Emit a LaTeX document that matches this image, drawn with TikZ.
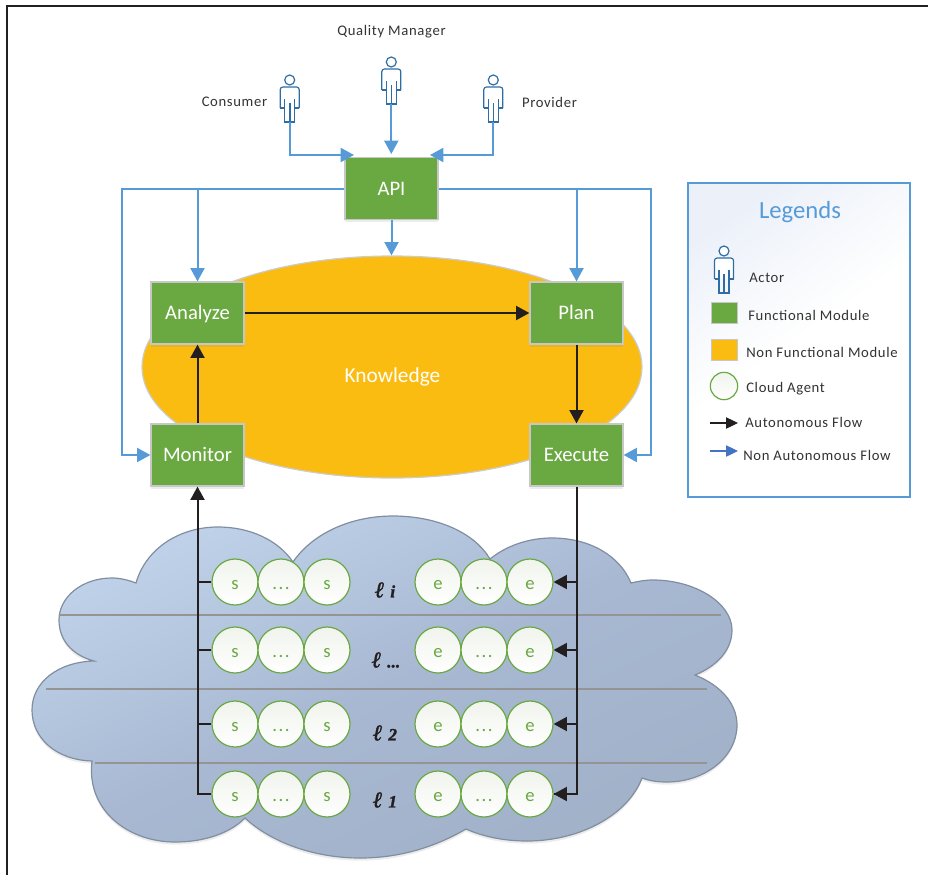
\documentclass[tikz,border=0pt]{standalone}
\usepackage{fontspec}
\setmainfont{Carlito}
\newfontfamily\captionfont[LetterSpace=4.5]{Carlito}
\newfontfamily\layerfont[BoldItalicFeatures={FakeBold=1.5}]{Liberation Serif}
\usetikzlibrary{arrows.meta,shapes.geometric,shadows}
\definecolor{modulegreen}{RGB}{106,168,66}
\definecolor{knowledgeorange}{RGB}{251,188,18}
\definecolor{flowblue}{RGB}{86,155,215}
\definecolor{legendblue}{RGB}{68,114,196}
\definecolor{actorblue}{RGB}{46,110,165}
\definecolor{flowblack}{RGB}{35,31,32}
\definecolor{cloudtop}{RGB}{192,210,234}
\definecolor{cloudmid}{RGB}{168,184,210}
\definecolor{cloudbot}{RGB}{160,177,200}
\definecolor{agenttop}{RGB}{240,244,236}
\newcommand{\layerlabel}[1]{{\fontsize{17}{17}\selectfont ℓ}\,\,#1}
\newcommand{\agentdots}{.\kern1.2pt.\kern1.2pt.}
\tikzset{
  softshadow/.style={drop shadow={opacity=0.15,shadow xshift=0pt,shadow yshift=-2pt}},
  module/.style={draw=black!22,line width=0.9pt,fill=modulegreen,text=white,minimum width=69.75pt,minimum height=46.5pt,text height=11pt,text depth=1pt,font=\fontsize{15.5}{18}\selectfont,softshadow},
  agent/.style={circle,draw=modulegreen,line width=0.9pt,top color=agenttop,bottom color=white,text=modulegreen,minimum size=34.5pt,inner sep=0pt,text height=11pt,text depth=0pt,font=\fontsize{14}{16}\selectfont},
  swatch/.style={draw=black!22,line width=0.9pt,minimum width=20pt,minimum height=16pt},
  autoflow/.style={draw=flowblack,line width=1.5pt},
  nonflow/.style={draw=flowblue,line width=1.5pt},
  tip/.style={-{Triangle[length=10pt,width=10.5pt]}},
  caption/.style={text=black!80,inner sep=0.75pt,font=\fontsize{11}{13}\captionfont\selectfont},
  layertext/.style={text=flowblack,inner sep=0.75pt,font=\fontsize{13}{16}\layerfont\bfseries\itshape\selectfont},
  layerline/.style={draw=black!42,line width=1pt},
  actor/.pic={
    \draw [actorblue,line width=0.9pt,fill=white,rounded corners=2pt] (-9.5,-21) -- (-9.5,0) -- (9.5,0) -- (9.5,-21) ;
    \draw [actorblue,line width=0.9pt] (-5,-12) -- (-5,-35) -- (5,-35) -- (5,-12) (-9.5,-21) -- (-5,-21) (9.5,-21) -- (5,-21) ;
    \draw [actorblue,line width=1.2pt] (0,-16) -- (0,-35) ;
    \draw [actorblue,line width=0.9pt,fill=white] (0,7) circle [radius=5] ;
    \coordinate (-foot) at (0,-35) ;
  }
}
\begin{document}
\begin{tikzpicture}[x=0.75pt,y=0.75pt,yscale=-1,xscale=1]
\useasboundingbox (0,0) rectangle (928,875);

%Page edge
\draw [flowblack,line width=0.9pt] (928,6) -- (7,6) -- (7,875) ;

%Shape: Cloud
\draw [draw=cloudbot!80!black,line width=0.9pt,top color=cloudtop,bottom color=cloudbot,middle color=cloudmid,shading angle=25,softshadow]
  (136,583) .. controls (146,548) and (180,527) .. (218,527) .. controls (250,527) and (278,540) .. (293,562)
  .. controls (312,534) and (350,516) .. (393,516) .. controls (436,516) and (474,532) .. (490,559)
  .. controls (506,546) and (528,538) .. (552,538) .. controls (590,538) and (620,556) .. (631,583)
  .. controls (640,581) and (645,580) .. (653,580) .. controls (695,580) and (732,603) .. (732,630) .. controls (732,650) and (717,666) .. (695,675)
  .. controls (720,685) and (737,703) .. (737,725) .. controls (737,757) and (705,782) .. (667,782) .. controls (658,782) and (650,781) .. (642,778)
  .. controls (628,815) and (580,841) .. (527,841) .. controls (505,841) and (484,837) .. (466,829)
  .. controls (435,847) and (400,858) .. (360,858) .. controls (315,858) and (272,843) .. (245,818)
  .. controls (230,833) and (205,842) .. (175,842) .. controls (128,842) and (86,810) .. (92,761)
  .. controls (56,760) and (32,738) .. (32,710) .. controls (32,682) and (58,662) .. (94,661)
  .. controls (72,655) and (59,640) .. (59,620) .. controls (59,597) and (82,578) .. (112,578) .. controls (120,578) and (128,580) .. (136,583) -- cycle ;
\draw [layerline] (59,615) -- (721,615) (46,689) -- (707,689) (95,763) -- (707,763) ;

%Shape: Knowledge ellipse
\node (knowledge) at (392,367) [ellipse,draw=black!20,line width=0.9pt,fill=knowledgeorange,minimum width=375pt,minimum height=166.5pt] {};
\node (knowledgetext) at (392.5,377) [text=white,font=\fontsize{16}{19}\selectfont] {Knowledge};

%Modules
\node (api) at (391.5,188.5) [module] {API};
\node (analyze) at (197.5,313) [module] {Analyze};
\node (plan) at (576.5,313) [module] {Plan};
\node (monitor) at (197.5,455) [module] {Monitor};
\node (execute) at (576.5,455) [module] {Execute};

%Actors
\pic (consumer) at (289.7,87) {actor};
\pic (manager) at (391.3,69) {actor};
\pic (provider) at (493.3,87) {actor};
\node (consumertext) at (234.5,102) [caption] {Consumer};
\node (managertext) at (391.5,32) [caption] {Quality Manager};
\node (providertext) at (549.5,102) [caption] {Provider};

%Non autonomous flows
\coordinate (apileft) at (354,155);
\coordinate (apitop) at (391.3,154);
\coordinate (apiright) at (430,155);
\coordinate (leftbus) at (122,188.5);
\coordinate (rightbus) at (651,188.5);
\draw [nonflow,tip] (consumer-foot) |- (apileft);
\draw [nonflow,tip] (manager-foot) -- (apitop);
\draw [nonflow,tip] (provider-foot) |- (apiright);
\draw [nonflow,tip] (api.south) -- (api.south |- knowledge.north);
\draw [nonflow,tip] (api.west) -| (analyze.north);
\draw [nonflow,tip] (api.east) -| (plan.north);
\draw [nonflow,tip] (api.west) -- (leftbus) |- (monitor.west);
\draw [nonflow,tip] (api.east) -- (rightbus) |- (execute.east);

%Autonomous flows
\draw [autoflow,tip] (analyze.east) -- (plan.west);
\draw [autoflow,tip] (plan.south) -- (execute.north);
\draw [autoflow,tip] (monitor.north) -- (analyze.south);

%Cloud agents
\foreach \rowname/\rowy in {a/582,b/650,c/724,d/794} {
  \node (s\rowname1) at (235,\rowy) [agent] {s};
  \node (s\rowname2) at (281,\rowy) [agent] {\agentdots};
  \node (s\rowname3) at (327,\rowy) [agent] {s};
  \node (e\rowname1) at (438,\rowy) [agent] {e};
  \node (e\rowname2) at (484,\rowy) [agent] {\agentdots};
  \node (e\rowname3) at (530,\rowy) [agent] {e};
  \draw [autoflow] (s\rowname1.west) -- (s\rowname1.west -| monitor.south);
  \draw [autoflow,tip] (e\rowname3.east -| execute.south) -- (e\rowname3.east);
}
\draw [autoflow,tip] (sd1.west) -| (monitor.south);
\draw [autoflow] (execute.south) |- (ed3.east);

%Layer labels
\node (layeri) at (385,590) [layertext] {\layerlabel{i}};
\node (layerdots) at (386,660) [layertext] {\layerlabel{...}};
\node (layertwo) at (385,733) [layertext] {\layerlabel{2}};
\node (layerone) at (385,800) [layertext] {\layerlabel{1}};

%Legend box
\node (legend) at (799,340) [draw=flowblue,line width=1.1pt,top color=legendblue!10,bottom color=white,middle color=white,shading angle=35,minimum width=166.5pt,minimum height=235.5pt] {};
\node (legendtitle) at (800,212) [text=flowblue,font=\fontsize{18.5}{22}\selectfont] {Legends};
\pic (legendactor) at (724,258) {actor};
\node (actortext) at (748,278) [caption,anchor=west] {Actor};
\node (greenswatch) at (724.5,313) [swatch,fill=modulegreen] {};
\node (greentext) at (747,315) [caption,anchor=west] {Functional Module};
\node (orangeswatch) at (724.5,350) [swatch,fill=knowledgeorange] {};
\node (orangetext) at (745,352) [caption,anchor=west] {Non Functional Module};
\node (agentswatch) at (724,386) [agent,minimum size=20.5pt] {};
\node (agenttext) at (745,389) [caption,anchor=west] {Cloud Agent};
\coordinate (blackstart) at (710,423);
\coordinate (blackend) at (738,423);
\coordinate (bluestart) at (710,451);
\coordinate (blueend) at (738,451);
\draw [autoflow,line width=0.9pt,-{Triangle[length=9pt,width=8.5pt]}] (blackstart) -- (blackend);
\draw [draw=legendblue,line width=0.9pt,-{Triangle[length=9pt,width=8.5pt]}] (bluestart) -- (blueend);
\node (autotext) at (744,422) [caption,anchor=west] {Autonomous Flow};
\node (nonautotext) at (742,455) [caption,anchor=west] {Non Autonomous Flow};

\end{tikzpicture}
\end{document}
